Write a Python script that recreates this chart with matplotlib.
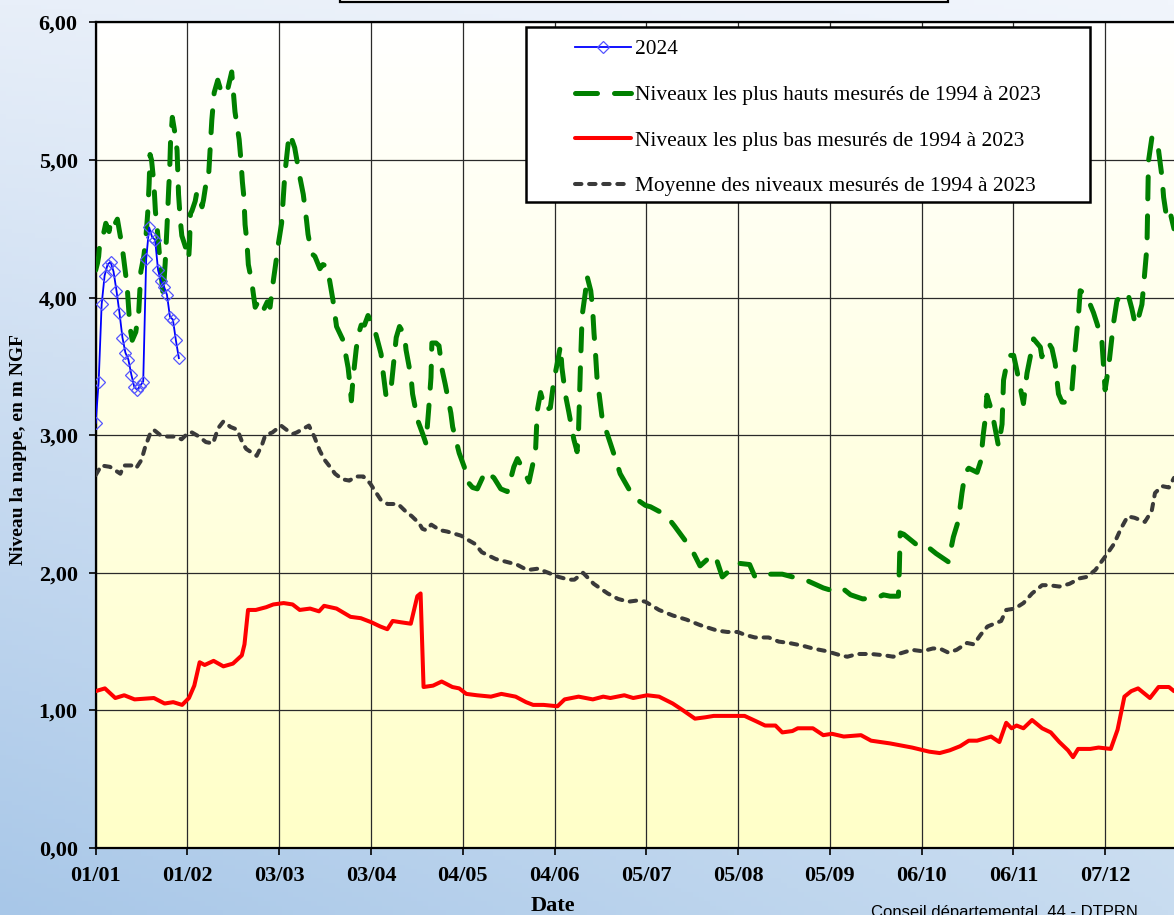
import numpy as np
import matplotlib
matplotlib.use("Agg")
import matplotlib.pyplot as plt
from matplotlib.patches import Rectangle
from matplotlib.colors import to_rgb

# ---------------- data (day of year, level in m NGF) ----------------
tick_days = [0, 30.9, 61.8, 92.7, 123.6, 154.5, 185.4, 216.3, 247.2, 278.1, 309.0, 339.9]
tick_labels = ["01/01", "01/02", "03/03", "03/04", "04/05", "04/06",
               "05/07", "05/08", "05/09", "06/10", "06/11", "07/12"]
ytick_vals = [0, 1, 2, 3, 4, 5, 6]
ytick_labels = ["0,00", "1,00", "2,00", "3,00", "4,00", "5,00", "6,00"]

series_labels = ["2024",
                 "Niveaux les plus hauts mesurés de 1994 à 2023",
                 "Niveaux les plus bas mesurés de 1994 à 2023",
                 "Moyenne des niveaux mesurés de 1994 à 2023"]

year2024 = [(0, 3.09), (1, 3.39), (2, 3.95), (3, 4.16), (4, 4.24), (5, 4.26), (6, 4.19),
            (7, 4.05), (8, 3.89), (9, 3.71), (10, 3.60), (11, 3.55), (12, 3.44), (13, 3.35),
            (14, 3.33), (15, 3.36), (16, 3.39), (17, 4.28), (18, 4.51), (19, 4.44), (20, 4.42),
            (21, 4.20), (22, 4.12), (23, 4.08), (24, 4.02), (25, 3.86), (26, 3.84), (27, 3.69),
            (28, 3.56)]

highest = [(0, 4.20), (0.6, 4.25), (1.0, 4.30), (1.3, 4.38), (2.8, 4.48), (3.4, 4.54),
           (4.5, 4.48), (5.0, 4.54), (5.6, 4.50), (7.3, 4.57), (8.9, 4.37), (9.5, 4.27),
           (10.6, 4.08), (11.2, 3.88), (11.5, 3.79), (12.3, 3.69), (13.5, 3.75), (14.5, 3.90),
           (15.2, 4.19), (16.2, 4.30), (16.8, 4.41), (17.5, 4.61), (18.0, 4.83), (18.3, 5.04),
           (18.8, 5.00), (19.6, 4.83), (20.1, 4.63), (20.8, 4.48), (21.5, 4.30), (22.0, 4.18),
           (22.7, 4.02), (23.4, 4.25), (24.0, 4.51), (24.6, 4.80), (24.9, 4.92), (25.2, 5.13),
           (25.8, 5.31), (26.8, 5.18), (27.4, 5.07), (27.7, 4.88), (27.9, 4.75), (28.5, 4.56),
           (29.0, 4.45), (30.2, 4.37), (31.3, 4.28), (31.6, 4.39), (31.9, 4.61), (32.4, 4.63),
           (33.5, 4.70), (34.1, 4.77), (35.2, 4.71), (35.8, 4.66), (36.3, 4.71), (37.5, 4.88),
           (38.0, 4.88), (39.1, 5.29), (39.9, 5.49), (41.1, 5.58), (42.5, 5.48), (44.2, 5.49),
           (45.8, 5.64), (46.9, 5.35), (48.3, 5.15), (48.9, 5.00), (49.4, 4.84), (49.9, 4.73),
           (50.3, 4.53), (50.9, 4.41), (51.4, 4.24), (52.5, 4.12), (53.7, 3.93), (54.2, 3.95),
           (55.5, 3.99), (56.7, 3.92), (57.8, 3.97), (58.7, 3.93), (59.8, 4.12), (60.9, 4.29),
           (61.5, 4.39), (62.6, 4.54), (63.7, 4.90), (64.8, 5.12), (65.4, 5.19), (67.0, 5.09),
           (68.8, 4.87), (69.9, 4.75), (71.0, 4.56), (71.5, 4.46), (72.7, 4.32), (73.8, 4.30),
           (75.5, 4.21), (76.5, 4.24), (77.7, 4.23), (78.8, 4.12), (79.9, 3.98), (81.1, 3.79),
           (83.3, 3.69), (85.0, 3.49), (85.5, 3.39), (86.1, 3.25), (86.6, 3.40), (87.7, 3.62),
           (88.3, 3.72), (89.4, 3.80), (90.5, 3.80), (91.7, 3.87), (93.9, 3.77), (96.1, 3.59),
           (96.7, 3.47), (97.8, 3.28), (98.0, 3.28), (99.5, 3.35), (101.2, 3.71), (102.3, 3.79),
           (104.0, 3.73), (104.5, 3.62), (106.2, 3.42), (106.7, 3.30), (108.4, 3.11),
           (110.1, 3.01), (111.2, 2.94), (112.1, 3.18), (112.9, 3.42), (113.2, 3.67),
           (114.6, 3.67), (115.6, 3.65), (116.7, 3.47), (117.7, 3.37), (119.6, 3.16),
           (120.2, 3.06), (122.4, 2.87), (124.1, 2.77), (125.7, 2.65), (126.9, 2.62),
           (128.5, 2.61), (131.3, 2.74), (134.1, 2.69), (136.4, 2.61), (138.6, 2.59),
           (140.8, 2.77), (142.0, 2.83), (144.2, 2.74), (145.9, 2.66), (148.1, 2.88),
           (148.7, 3.18), (149.8, 3.31), (151.5, 3.18), (153.1, 3.20), (154.3, 3.40),
           (155.4, 3.52), (156.5, 3.65), (157.0, 3.49), (158.2, 3.29), (159.3, 3.17),
           (161.0, 2.97), (162.1, 2.88), (162.6, 3.04), (163.2, 3.48), (163.5, 3.67),
           (163.8, 3.87), (164.9, 4.04), (165.4, 4.16), (166.7, 4.05), (167.3, 3.93),
           (167.8, 3.74), (168.2, 3.63), (168.8, 3.42), (169.4, 3.32), (170.5, 3.13),
           (172.1, 3.02), (175.0, 2.83), (176.6, 2.72), (181.1, 2.55), (185.1, 2.49),
           (186.8, 2.48), (192.0, 2.42), (194.9, 2.34), (200.7, 2.17), (203.5, 2.05),
           (207.6, 2.13), (208.7, 2.12), (211.0, 1.97), (216.2, 2.07), (220.2, 2.06),
           (222.0, 1.97), (226.6, 1.99), (231.2, 1.99), (239.9, 1.94), (245.0, 1.89),
           (249.6, 1.86), (251.9, 1.88), (254.2, 1.84), (258.3, 1.81), (263.4, 1.82),
           (265.2, 1.84), (267.5, 1.83), (270.3, 1.83), (270.6, 2.02), (270.9, 2.29),
           (272.1, 2.28), (276.1, 2.21), (278.4, 2.18), (280.1, 2.19), (283.0, 2.14),
           (287.1, 2.08), (288.8, 2.26), (290.5, 2.38), (291.7, 2.58), (292.8, 2.73),
           (294.0, 2.76), (296.8, 2.73), (298.0, 2.81), (298.9, 3.01), (299.5, 3.11),
           (300.1, 3.29), (301.8, 3.17), (304.0, 2.92), (305.2, 3.08), (305.7, 3.40),
           (306.8, 3.52), (307.9, 3.58), (309.1, 3.58), (310.2, 3.47), (311.3, 3.35),
           (312.4, 3.23), (313.6, 3.45), (314.7, 3.57), (315.8, 3.70), (318.1, 3.64),
           (318.6, 3.57), (320.9, 3.67), (322.0, 3.63), (323.1, 3.52), (324.2, 3.30),
           (325.4, 3.24), (327.0, 3.24), (328.7, 3.32), (329.8, 3.62), (331.0, 3.89),
           (331.5, 4.05), (333.2, 4.03), (334.3, 3.98), (336.0, 3.89), (337.2, 3.81),
           (338.8, 3.69), (339.9, 3.33), (341.1, 3.50), (342.7, 3.81), (343.9, 3.98),
           (346.7, 4.04), (347.8, 4.01), (348.9, 3.92), (350.1, 3.80), (351.2, 3.86),
           (352.3, 3.95), (352.8, 4.07), (354.0, 4.37), (354.5, 4.99), (355.7, 5.17),
           (357.9, 5.07), (359.1, 4.87), (359.6, 4.73), (360.7, 4.57), (361.9, 4.61),
           (363.1, 4.50)]

lowest = [(0, 1.14), (3.1, 1.16), (6.6, 1.09), (9.6, 1.11), (13.1, 1.08), (19.6, 1.09),
          (23.2, 1.05), (26.1, 1.06), (29.1, 1.04), (31.4, 1.09), (33.2, 1.18), (35.0, 1.35),
          (36.7, 1.33), (39.7, 1.36), (43.0, 1.32), (46.2, 1.34), (49.2, 1.40), (50.1, 1.48),
          (51.3, 1.73), (53.9, 1.73), (57.4, 1.75), (59.8, 1.77), (63.3, 1.78), (66.3, 1.77),
          (68.7, 1.73), (72.2, 1.74), (75.2, 1.72), (76.9, 1.76), (81.1, 1.74), (85.8, 1.68),
          (89.3, 1.67), (92.9, 1.64), (95.8, 1.61), (98.2, 1.59), (100.0, 1.65), (102.9, 1.64),
          (106.1, 1.63), (108.3, 1.83), (109.4, 1.85), (110.4, 1.17), (113.6, 1.18),
          (116.5, 1.21), (120.1, 1.17), (122.4, 1.16), (124.8, 1.12), (128.4, 1.11),
          (133.1, 1.10), (136.6, 1.12), (141.4, 1.10), (144.9, 1.06), (147.3, 1.04),
          (150.8, 1.04), (155.5, 1.03), (157.9, 1.08), (162.6, 1.10), (167.4, 1.08),
          (170.9, 1.10), (173.3, 1.09), (178.0, 1.11), (181.0, 1.09), (185.7, 1.11),
          (189.7, 1.10), (194.3, 1.05), (197.8, 1.00), (201.8, 0.94), (205.3, 0.95),
          (208.1, 0.96), (212.7, 0.96), (218.5, 0.96), (222.5, 0.92), (225.4, 0.89),
          (228.9, 0.89), (231.2, 0.84), (234.6, 0.85), (236.4, 0.87), (241.5, 0.87),
          (245.0, 0.82), (247.9, 0.83), (251.9, 0.81), (257.7, 0.82), (261.1, 0.78),
          (267.5, 0.76), (274.9, 0.73), (280.7, 0.70), (284.2, 0.69), (287.6, 0.71),
          (291.1, 0.74), (294.0, 0.78), (296.8, 0.78), (301.5, 0.81), (304.3, 0.77),
          (306.6, 0.91), (308.4, 0.87), (310.1, 0.89), (312.4, 0.87), (315.3, 0.93),
          (318.7, 0.87), (321.6, 0.84), (324.5, 0.77), (327.4, 0.71), (329.1, 0.66),
          (330.8, 0.72), (334.9, 0.72), (337.7, 0.73), (341.8, 0.72), (344.1, 0.86),
          (346.4, 1.10), (348.7, 1.14), (351.0, 1.16), (355.0, 1.09), (357.9, 1.17),
          (361.4, 1.17), (363.1, 1.14)]

average = [(0, 2.71), (1.9, 2.78), (4.8, 2.77), (8.3, 2.72), (9.5, 2.78), (12.4, 2.78),
           (13.6, 2.76), (15.4, 2.82), (16.6, 2.91), (18.3, 3.01), (19.5, 3.04), (21.8, 3.00),
           (24.2, 2.99), (27.1, 2.99), (28.9, 2.97), (31.3, 3.02), (32.4, 3.02), (34.8, 2.99),
           (37.1, 2.95), (39.5, 2.94), (41.2, 3.05), (43.0, 3.10), (45.4, 3.06), (47.7, 3.04),
           (49.5, 2.94), (50.7, 2.90), (54.2, 2.85), (56.0, 2.93), (57.1, 3.00), (59.5, 3.02),
           (62.4, 3.07), (64.2, 3.04), (66.5, 3.01), (67.7, 3.02), (71.8, 3.07), (73.6, 2.99),
           (75.4, 2.89), (77.1, 2.82), (78.9, 2.77), (80.6, 2.72), (83.0, 2.68), (85.4, 2.67),
           (87.7, 2.70), (90.1, 2.70), (92.4, 2.65), (94.2, 2.59), (96.0, 2.53), (98.3, 2.50),
           (101.8, 2.50), (104.2, 2.45), (106.5, 2.41), (108.9, 2.36), (110.0, 2.32),
           (111.2, 2.31), (113.0, 2.35), (115.9, 2.31), (118.3, 2.30), (123.0, 2.27),
           (125.3, 2.24), (127.7, 2.21), (130.0, 2.15), (134.7, 2.10), (138.3, 2.08),
           (141.8, 2.06), (145.3, 2.02), (148.9, 2.03), (151.2, 2.01), (155.9, 1.97),
           (159.4, 1.95), (161.2, 1.95), (164.1, 2.00), (167.7, 1.92), (172.4, 1.85),
           (175.9, 1.81), (179.4, 1.79), (182.8, 1.80), (185.1, 1.79), (189.7, 1.73),
           (194.3, 1.69), (198.9, 1.66), (203.5, 1.62), (209.3, 1.58), (212.7, 1.57),
           (216.2, 1.57), (218.5, 1.55), (222.0, 1.53), (226.6, 1.53), (230.0, 1.50),
           (233.5, 1.49), (238.1, 1.47), (241.5, 1.45), (246.2, 1.43), (250.8, 1.40),
           (253.1, 1.39), (256.5, 1.41), (261.1, 1.41), (265.7, 1.40), (268.6, 1.39),
           (270.3, 1.41), (274.9, 1.44), (278.4, 1.43), (281.9, 1.45), (284.2, 1.45),
           (287.1, 1.42), (289.9, 1.44), (293.4, 1.49), (295.7, 1.48), (298.0, 1.55),
           (300.3, 1.61), (304.9, 1.65), (306.6, 1.73), (309.5, 1.74), (312.4, 1.78),
           (315.3, 1.85), (318.7, 1.91), (321.0, 1.91), (324.5, 1.90), (327.9, 1.92),
           (331.4, 1.96), (333.7, 1.97), (336.6, 2.02), (340.0, 2.12), (342.9, 2.21),
           (345.2, 2.32), (347.5, 2.41), (349.8, 2.40), (353.3, 2.37), (355.6, 2.45),
           (356.7, 2.58), (359.1, 2.63), (361.4, 2.62), (363.1, 2.69)]

# ---------------- figure ----------------
W, H = 1174, 915
XMAX = 363.1
fig = plt.figure(figsize=(W / 100, H / 100), dpi=100)

# figure background gradient
bg = fig.add_axes([0, 0, 1, 1], zorder=-10)
yy, xx = np.mgrid[0:1:200j, 0:1:200j]
tl, tr, bl, br = [np.array(to_rgb(c)) for c in ("#e8eff9", "#f1f5fc", "#a8c7e8", "#c8dcf0")]
xx3, yy3 = xx[..., None], yy[..., None]
img = tl * (1 - xx3) * (1 - yy3) + tr * xx3 * (1 - yy3) + bl * (1 - xx3) * yy3 + br * xx3 * yy3
bg.imshow(img, extent=(0, 1, 0, 1), aspect="auto", origin="upper")
bg.axis("off")

ax = fig.add_axes([95.7 / W, 67 / H, 1 - 95.7 / W, 825.6 / H])

# plot area gradient (white -> pale yellow)
g = np.linspace(0, 1, 256)[:, None, None]
pimg = np.array(to_rgb("#ffffff")) * (1 - g) + np.array(to_rgb("#ffffc8")) * g
ax.imshow(pimg, extent=(0, XMAX, 0, 6), aspect="auto", origin="upper", zorder=0)

serif = "Liberation Serif"

hd, hv = zip(*highest)
ld, lv = zip(*lowest)
ad, av = zip(*average)
yd, yv = zip(*year2024)

l2, = ax.plot(hd, hv, color="#008000", lw=3.6, dashes=(4.4, 3.4),
              dash_capstyle="round", zorder=3, label=series_labels[1])
l3, = ax.plot(ld, lv, color="#ff0000", lw=2.9, solid_joinstyle="round",
              solid_capstyle="round", zorder=3, label=series_labels[2])
l4, = ax.plot(ad, av, color="#3a3a3a", lw=2.9, dashes=(1.6, 1.9),
              dash_capstyle="round", zorder=3, label=series_labels[3])
l1, = ax.plot(yd, yv, color="#0000ff", lw=1.3, marker="D", markersize=5.8,
              markerfacecolor="none", markeredgecolor="#5555ff", markeredgewidth=0.9,
              zorder=4, label=series_labels[0])

ax.set_xlim(0, XMAX)
ax.set_ylim(0, 6)
ax.set_xticks(tick_days)
ax.set_xticklabels(tick_labels, fontfamily=serif, fontweight="bold", fontsize=16)
ax.set_yticks(ytick_vals)
ax.set_yticklabels(ytick_labels, fontfamily=serif, fontweight="bold", fontsize=16)
ax.tick_params(direction="out", length=5, width=1.2, pad=8, colors="black")
ax.grid(True, color="#2a2a2a", lw=0.9)
for s in ("left", "bottom", "top"):
    ax.spines[s].set_linewidth(1.6)
    ax.spines[s].set_color("black")
ax.spines["right"].set_visible(False)

# title box (cut at top of image)
ax.add_patch(Rectangle((340 / W, 1 - 2 / H), 608 / W, 0.05, transform=fig.transFigure,
                       facecolor="white", edgecolor="black", lw=1.6, clip_on=False, zorder=6))

# legend box
ax.add_patch(Rectangle((526 / W, 1 - 202 / H), 564 / W, 175 / H, transform=fig.transFigure,
                       facecolor="white", edgecolor="black", lw=1.8, clip_on=False, zorder=6))
leg = ax.legend(handles=[l1, l2, l3, l4], loc="upper left",
                bbox_to_anchor=(575 / W, 1 - 39.5 / H), bbox_transform=fig.transFigure,
                frameon=False, prop={"family": serif, "size": 15.4},
                handlelength=2.6, handletextpad=0.2, labelspacing=1.2,
                borderpad=0, borderaxespad=0, numpoints=1)
leg.set_zorder(7)

fig.text(19 / W, 1 - 450 / H, "Niveau la nappe, en m NGF", rotation=90, ha="center",
         va="center", fontfamily=serif, fontweight="bold", fontsize=14)
fig.text(553 / W, 1 - 906 / H, "Date", ha="center", va="center",
         fontfamily=serif, fontweight="bold", fontsize=16)
fig.text(871 / W, 1 - 917 / H, "Conseil départemental  44 - DTPRN", ha="left",
         va="baseline", fontfamily="Liberation Sans", fontsize=12)

fig.savefig("out.png", dpi=100)
